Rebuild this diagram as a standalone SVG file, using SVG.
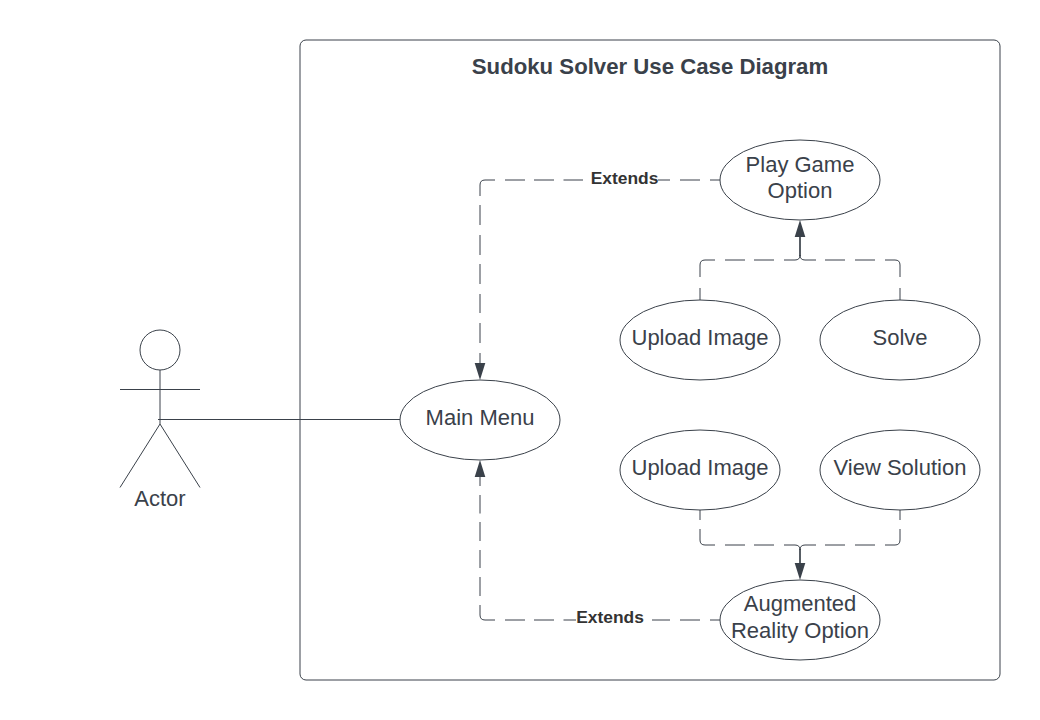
<svg xmlns="http://www.w3.org/2000/svg" width="1040" height="720" viewBox="0 0 1040 720">
<style>
text{font-family:"Liberation Sans",Arial,sans-serif;fill:#3a414a;text-anchor:middle}
.n{font-size:22px}
.l{font-size:17.4px;font-weight:bold;fill:#333}
.s{fill:none;stroke:#3a414a;stroke-width:1}
.e{fill:#fff;stroke:#3a414a;stroke-width:1}
.t{fill:none;stroke:#3a414a;stroke-width:1.700}
.a{fill:#3a414a;stroke:none}
</style>
<rect width="1040" height="720" fill="#fff"/>
<g id="boundary">
<rect x="300" y="40" width="700" height="640" rx="6" class="s"/>
<text x="650" y="74" style="font-size:22.200px;font-weight:bold">Sudoku Solver Use Case Diagram</text>
</g>
<g id="connectors">
<path class="s" d="M158 419.500H400"/>
<path class="s" d="M720 180H710M700 180H680M670 180H658M583 180H563.500M554 180H534M525 180H505M495 180H485Q480 180 480 185V196M480 205V225M480 235V255M480 264V284M480 294V313M480 323V343M480 353V366"/>
<path class="a" d="M480 380L474.700 363H485.300Z"/>
<text class="l" x="624.500" y="184">Extends</text>
<path class="s" d="M720 620H710M700 620H680M670 620H652M576 620H563.500M554 620H534M525 620H505M495 620H485Q480 620 480 615V605M480 596V577M480 568V550M480 541V522M480 513.500V495M480 486V474"/>
<path class="a" d="M480 460L474.700 477H485.300Z"/>
<text class="l" x="610" y="623">Extends</text>
<path class="s" d="M700 300V288M700 277V265Q700 260 705 260H715M725 260H745M754 260H774M784 260H795Q800 260 800 255Q800 260 805 260H816M825 260H845M855 260H875M885 260H895Q900 260 900 265V277M900 288V300"/>
<path class="t" d="M800 256V232"/>
<path class="a" d="M800 220L794.700 237H805.300Z"/>
<path class="s" d="M700 510V520M700 529V540Q700 545 705 545H715M725 545H745M754 545H774M784 545H795Q800 545 800 550Q800 545 805 545H816M825 545H845M855 545H875M885 545H895Q900 545 900 540V529M900 520V510"/>
<path class="t" d="M800 549V568"/>
<path class="a" d="M800 580L794.700 563H805.300Z"/>
</g>
<g id="actor">
<circle cx="160" cy="350" r="20" class="e"/>
<path class="s" d="M160 370V424M120 389.500H200M160 424L120 487.500M160 424L200 487.500"/>
<text class="n" x="160" y="506">Actor</text>
</g>
<g id="main-menu">
<ellipse cx="480" cy="420" rx="80" ry="40" class="e"/>
<text class="n" x="480" y="425">Main Menu</text>
</g>
<g id="play-game">
<ellipse cx="800" cy="180" rx="80" ry="40" class="e"/>
<text class="n" x="800" y="172">Play Game</text>
<text class="n" x="800" y="198">Option</text>
</g>
<g id="upload-image-1">
<ellipse cx="700" cy="340" rx="80" ry="40" class="e"/>
<text class="n" x="700" y="345">Upload Image</text>
</g>
<g id="solve">
<ellipse cx="900" cy="340" rx="80" ry="40" class="e"/>
<text class="n" x="900" y="345">Solve</text>
</g>
<g id="upload-image-2">
<ellipse cx="700" cy="470" rx="80" ry="40" class="e"/>
<text class="n" x="700" y="475">Upload Image</text>
</g>
<g id="view-solution">
<ellipse cx="900" cy="470" rx="80" ry="40" class="e"/>
<text class="n" x="900" y="475">View Solution</text>
</g>
<g id="augmented-reality">
<ellipse cx="800" cy="620" rx="80" ry="40" class="e"/>
<text class="n" x="800" y="611">Augmented</text>
<text class="n" x="800" y="638">Reality Option</text>
</g>
</svg>
